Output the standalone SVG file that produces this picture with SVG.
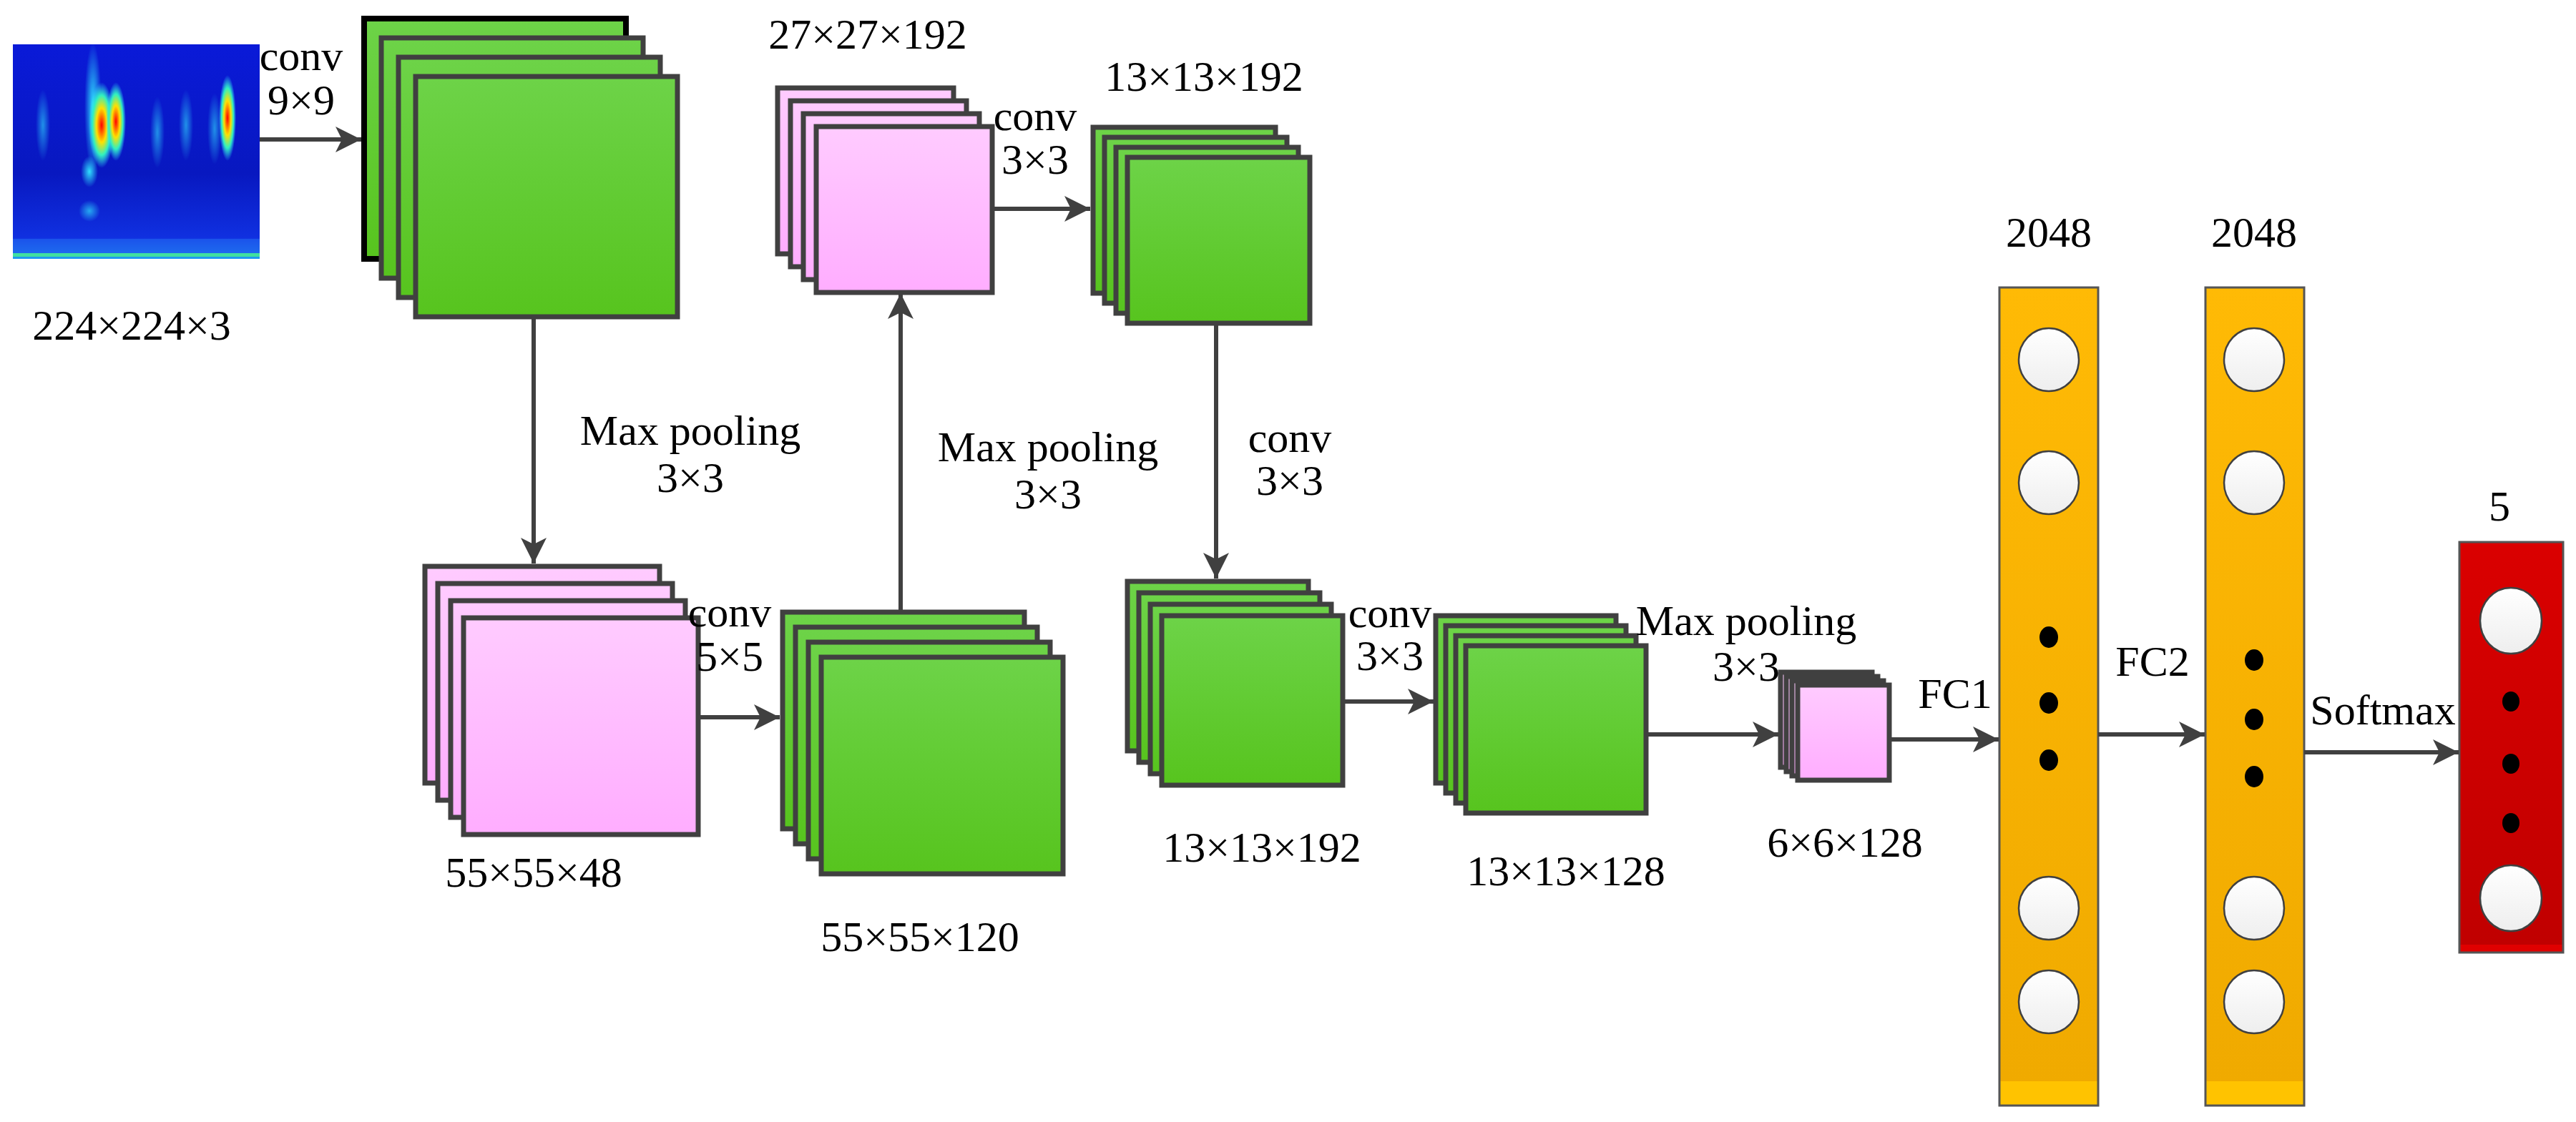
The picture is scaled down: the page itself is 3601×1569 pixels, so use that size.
<svg xmlns="http://www.w3.org/2000/svg" width="3601" height="1569" viewBox="0 0 3601 1569">
<style>
text{font-family:"Liberation Serif","Times New Roman",serif;font-size:60px;fill:#000;text-anchor:middle}
.g{fill:url(#gg);stroke:#404040;stroke-width:7}
.p{fill:url(#pg);stroke:#404040;stroke-width:7}
.c{stroke:#404040;stroke-width:6;fill:none;marker-end:url(#ah)}
.wc{fill:url(#wg);stroke:#404040;stroke-width:2.5}
.d{fill:#000}
</style>
<defs>
<linearGradient id="gg" x1="0" y1="0" x2="0" y2="1"><stop offset="0" stop-color="#6DD348"/><stop offset="1" stop-color="#57C41E"/></linearGradient>
<linearGradient id="pg" x1="0" y1="0" x2="0" y2="1"><stop offset="0" stop-color="#FFCBFF"/><stop offset="1" stop-color="#FFADFF"/></linearGradient>
<linearGradient id="og" x1="0" y1="0" x2="0" y2="1"><stop offset="0" stop-color="#FFBA05"/><stop offset="0.97" stop-color="#F0AA00"/><stop offset="0.97" stop-color="#FFC300"/><stop offset="1" stop-color="#FFC300"/></linearGradient>
<linearGradient id="rg" x1="0" y1="0" x2="0" y2="1"><stop offset="0" stop-color="#DA0000"/><stop offset="0.98" stop-color="#C00000"/><stop offset="0.98" stop-color="#E00000"/></linearGradient>
<linearGradient id="wg" x1="0" y1="0" x2="0" y2="1"><stop offset="0" stop-color="#FFFFFF"/><stop offset="1" stop-color="#EEEEEE"/></linearGradient>
<linearGradient id="sg" x1="0" y1="0" x2="0" y2="1"><stop offset="0" stop-color="#0A1AD8"/><stop offset="0.6" stop-color="#0818C0"/><stop offset="0.9" stop-color="#1030E0"/><stop offset="1" stop-color="#20A0F0"/></linearGradient>
<radialGradient id="blob"><stop offset="0" stop-color="#30E0FF"/><stop offset="1" stop-color="#30E0FF" stop-opacity="0"/></radialGradient>
<radialGradient id="hot"><stop offset="0" stop-color="#FF0000"/><stop offset="0.4" stop-color="#FFE000"/><stop offset="0.7" stop-color="#30F0C0"/><stop offset="1" stop-color="#30E0FF" stop-opacity="0"/></radialGradient>
<marker id="ah" viewBox="0 0 20 20" refX="20" refY="10" markerWidth="6" markerHeight="6" orient="auto" markerUnits="strokeWidth"><path d="M0,0 L20,10 L0,20 L5,10 Z" fill="#404040"/></marker>
</defs>
<rect width="3601" height="1569" fill="#fff"/>
<g id="input">
<rect x="18" y="62" width="345" height="300" fill="url(#sg)"/>
<ellipse cx="130" cy="150" rx="12" ry="90" fill="url(#blob)"/>
<ellipse cx="142" cy="175" rx="18" ry="60" fill="url(#hot)"/>
<ellipse cx="162" cy="170" rx="14" ry="55" fill="url(#hot)"/>
<ellipse cx="318" cy="165" rx="12" ry="60" fill="url(#hot)"/>
<ellipse cx="60" cy="175" rx="10" ry="50" fill="url(#blob)" opacity="0.6"/>
<ellipse cx="220" cy="185" rx="10" ry="50" fill="url(#blob)" opacity="0.6"/>
<ellipse cx="260" cy="175" rx="10" ry="50" fill="url(#blob)" opacity="0.6"/>
<ellipse cx="300" cy="180" rx="10" ry="50" fill="url(#blob)" opacity="0.6"/>
<ellipse cx="125" cy="240" rx="12" ry="22" fill="url(#blob)"/>
<ellipse cx="125" cy="295" rx="15" ry="15" fill="url(#blob)" opacity="0.7"/>
<rect x="18" y="334" width="345" height="20" fill="#2060F0" opacity="0.7"/>
<rect x="18" y="354" width="345" height="5" fill="#40E0A0"/>
<text x="184" y="475">224×224×3</text>
</g>
<g id="conv1">
<rect x="509" y="26" width="366" height="336" fill="url(#gg)" stroke="#000" stroke-width="8"/>
<rect class="g" x="533" y="53" width="366" height="336"/>
<rect class="g" x="557" y="80" width="366" height="336"/>
<rect class="g" x="581" y="107" width="366" height="336"/>
</g>
<g id="pool1">
<rect class="p" x="594" y="792" width="328" height="303"/>
<rect class="p" x="612" y="816" width="328" height="303"/>
<rect class="p" x="630" y="840" width="328" height="303"/>
<rect class="p" x="648" y="864" width="328" height="303"/>
<text x="746" y="1240">55×55×48</text>
</g>
<g id="conv2">
<rect class="g" x="1094" y="856" width="338" height="303"/>
<rect class="g" x="1112" y="877" width="338" height="303"/>
<rect class="g" x="1130" y="898" width="338" height="303"/>
<rect class="g" x="1148" y="919" width="338" height="303"/>
<text x="1286" y="1330">55×55×120</text>
</g>
<g id="pool2">
<rect class="p" x="1087" y="123" width="246" height="232"/>
<rect class="p" x="1105" y="141" width="246" height="232"/>
<rect class="p" x="1123" y="159" width="246" height="232"/>
<rect class="p" x="1141" y="177" width="246" height="232"/>
<text x="1213" y="68">27×27×192</text>
</g>
<g id="conv3">
<rect class="g" x="1528" y="178" width="255" height="232"/>
<rect class="g" x="1544" y="192" width="255" height="232"/>
<rect class="g" x="1560" y="206" width="255" height="232"/>
<rect class="g" x="1576" y="220" width="255" height="232"/>
<text x="1683" y="127">13×13×192</text>
</g>
<g id="conv4">
<rect class="g" x="1576" y="813" width="253" height="237"/>
<rect class="g" x="1592" y="829" width="253" height="237"/>
<rect class="g" x="1608" y="845" width="253" height="237"/>
<rect class="g" x="1624" y="861" width="253" height="237"/>
<text x="1764" y="1205">13×13×192</text>
</g>
<g id="conv5">
<rect class="g" x="2007" y="861" width="252" height="234"/>
<rect class="g" x="2021" y="875" width="252" height="234"/>
<rect class="g" x="2035" y="889" width="252" height="234"/>
<rect class="g" x="2049" y="903" width="252" height="234"/>
<text x="2189" y="1238">13×13×128</text>
</g>
<g id="pool3">
<rect class="p" x="2489" y="940" width="128" height="133"/>
<rect class="p" x="2497" y="946" width="128" height="133"/>
<rect class="p" x="2505" y="952" width="128" height="133"/>
<rect class="p" x="2513" y="958" width="128" height="133"/>
<text x="2579" y="1198">6×6×128</text>
</g>
<g id="fc1">
<rect x="2795" y="402" width="138" height="1144" fill="url(#og)" stroke="#555" stroke-width="3"/>
<ellipse class="wc" cx="2864" cy="503" rx="42" ry="44"/>
<ellipse class="wc" cx="2864" cy="675" rx="42" ry="44"/>
<ellipse class="wc" cx="2864" cy="1270" rx="42" ry="44"/>
<ellipse class="wc" cx="2864" cy="1401" rx="42" ry="44"/>
<ellipse class="d" cx="2864" cy="891" rx="13" ry="15"/>
<ellipse class="d" cx="2864" cy="983" rx="13" ry="15"/>
<ellipse class="d" cx="2864" cy="1063" rx="13" ry="15"/>
<text x="2864" y="345">2048</text>
</g>
<g id="fc2">
<rect x="3083" y="402" width="138" height="1144" fill="url(#og)" stroke="#555" stroke-width="3"/>
<ellipse class="wc" cx="3151" cy="503" rx="42" ry="44"/>
<ellipse class="wc" cx="3151" cy="675" rx="42" ry="44"/>
<ellipse class="wc" cx="3151" cy="1270" rx="42" ry="44"/>
<ellipse class="wc" cx="3151" cy="1401" rx="42" ry="44"/>
<ellipse class="d" cx="3151" cy="923" rx="13" ry="15"/>
<ellipse class="d" cx="3151" cy="1006" rx="13" ry="15"/>
<ellipse class="d" cx="3151" cy="1086" rx="13" ry="15"/>
<text x="3151" y="345">2048</text>
</g>
<g id="output">
<rect x="3438" y="758" width="145" height="574" fill="url(#rg)" stroke="#555" stroke-width="3"/>
<ellipse class="wc" cx="3510" cy="868" rx="43" ry="46"/>
<ellipse class="wc" cx="3510" cy="1256" rx="43" ry="46"/>
<ellipse class="d" cx="3510" cy="981" rx="12" ry="14"/>
<ellipse class="d" cx="3510" cy="1068" rx="12" ry="14"/>
<ellipse class="d" cx="3510" cy="1151" rx="12" ry="14"/>
<text x="3494" y="728">5</text>
</g>
<g id="connectors">
<line class="c" x1="363" y1="195" x2="505" y2="195"/>
<line class="c" x1="746" y1="443" x2="746" y2="788"/>
<line class="c" x1="978" y1="1003" x2="1090" y2="1003"/>
<line class="c" x1="1259" y1="857" x2="1259" y2="410"/>
<line class="c" x1="1387" y1="292" x2="1524" y2="292"/>
<line class="c" x1="1700" y1="452" x2="1700" y2="809"/>
<line class="c" x1="1877" y1="981" x2="2004" y2="981"/>
<line class="c" x1="2301" y1="1027" x2="2486" y2="1027"/>
<line class="c" x1="2641" y1="1034" x2="2794" y2="1034"/>
<line class="c" x1="2933" y1="1027" x2="3082" y2="1027"/>
<line class="c" x1="3221" y1="1052" x2="3437" y2="1052"/>
<text x="421" y="98">conv</text>
<text x="421" y="160">9×9</text>
<text x="965" y="622">Max pooling</text>
<text x="965" y="688">3×3</text>
<text x="1020" y="876">conv</text>
<text x="1020" y="938">5×5</text>
<text x="1465" y="645">Max pooling</text>
<text x="1465" y="711">3×3</text>
<text x="1447" y="182">conv</text>
<text x="1447" y="243">3×3</text>
<text x="1803" y="632">conv</text>
<text x="1803" y="692">3×3</text>
<text x="1943" y="877">conv</text>
<text x="1943" y="937">3×3</text>
<text x="2441" y="888">Max pooling</text>
<text x="2441" y="952">3×3</text>
<text x="2733" y="990">FC1</text>
<text x="3009" y="945">FC2</text>
<text x="3331" y="1013">Softmax</text>
</g>
</svg>
